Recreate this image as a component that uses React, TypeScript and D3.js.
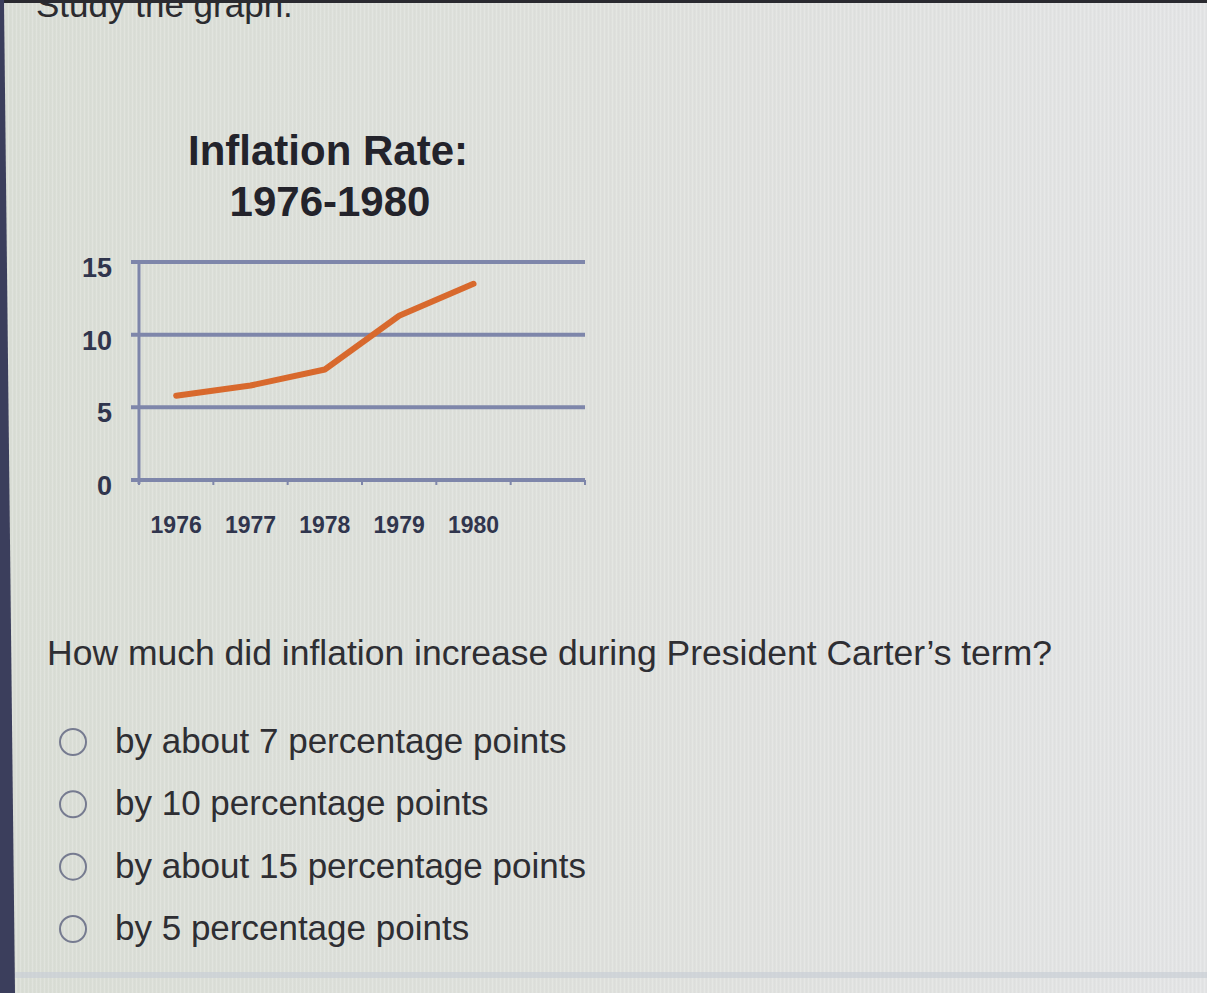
import React from "react";
import * as d3 from "d3";

const years = [1976, 1977, 1978, 1979, 1980];
const inflation = [5.8, 6.5, 7.6, 11.3, 13.5];
const yTicks = [0, 5, 10, 15];
const options = [
  "by about 7 percentage points",
  "by 10 percentage points",
  "by about 15 percentage points",
  "by 5 percentage points",
];

const W = 1207;
const H = 993;

export default function App() {
  const x = d3.scaleLinear().domain([1975.5, 1981.5]).range([139, 585]);
  const y = d3.scaleLinear().domain([0, 15]).range([480, 262]);
  const xBoundaries = d3.range(1975.5, 1982, 1);
  const line = d3
    .line<number>()
    .x((_, i) => x(years[i]))
    .y((d) => y(d));

  const font = "'Liberation Sans', Arial, sans-serif";
  const optionY = d3.scaleLinear().domain([0, 3]).range([753, 940]);

  return (
    <svg
      width={W}
      height={H}
      style={{ position: "fixed", left: 0, top: 0, display: "block" }}
      fontFamily={font}
    >
      <defs>
        <linearGradient id="bg" x1="0" y1="0" x2="1" y2="0">
          <stop offset="0" stopColor="#d9ddd5" />
          <stop offset="0.5" stopColor="#dee0dc" />
          <stop offset="1" stopColor="#e3e4e5" />
        </linearGradient>
        <pattern id="stripes" width="4" height="4" patternUnits="userSpaceOnUse">
          <rect x="0" y="0" width="1" height="4" fill="#ffffff" opacity="0.18" />
          <rect x="2" y="0" width="1" height="4" fill="#b9bdb8" opacity="0.08" />
        </pattern>
      </defs>
      <rect x={0} y={0} width={W} height={H} fill="url(#bg)" />
      <rect x={0} y={0} width={W} height={H} fill="url(#stripes)" />
      <rect x={0} y={0} width={W} height={3} fill="#2a2a30" />
      <polygon points={`0,0 4,0 15,${H} 0,${H}`} fill="#3b3e5c" />
      <rect x={15} y={972} width={W - 15} height={6} fill="#c9ced6" opacity={0.7} />

      <text x={36} y={17} fontSize={35} fill="#2b2b2f">
        Study the graph.
      </text>

      {/* Title */}
      <text x={328} y={165} fontSize={42} fontWeight="bold" textAnchor="middle" fill="#23232b">
        Inflation Rate:
      </text>
      <text x={330} y={216} fontSize={42} fontWeight="bold" textAnchor="middle" fill="#23232b">
        1976-1980
      </text>

      {/* gridlines */}
      {yTicks.map((t) => (
        <line
          key={t}
          x1={131}
          x2={585}
          y1={y(t)}
          y2={y(t)}
          stroke="#7e86aa"
          strokeWidth={4}
        />
      ))}
      <line x1={x(1975.5)} x2={x(1975.5)} y1={y(15)} y2={y(0) + 4} stroke="#7e86aa" strokeWidth={3} />
      {xBoundaries.map((b) => (
        <line key={b} x1={x(b)} x2={x(b)} y1={y(0)} y2={y(0) + 5} stroke="#7e86aa" strokeWidth={2} />
      ))}
      {yTicks.map((t) => (
        <text
          key={t}
          x={112}
          y={y(t) + 15}
          fontSize={27}
          fontWeight="bold"
          textAnchor="end"
          fill="#30354d"
        >
          {t}
        </text>
      ))}
      {years.map((yr) => (
        <text
          key={yr}
          x={x(yr)}
          y={533}
          fontSize={23}
          fontWeight="bold"
          textAnchor="middle"
          fill="#30354d"
        >
          {yr}
        </text>
      ))}
      <path
        d={line(inflation) || ""}
        fill="none"
        stroke="#d8692d"
        strokeWidth={6}
        strokeLinejoin="round"
        strokeLinecap="round"
      />

      <text x={47} y={665} fontSize={35.5} fill="#2e2e33">
        How much did inflation increase during President Carter’s term?
      </text>

      {options.map((o, i) => (
        <g key={o}>
          <circle cx={73} cy={optionY(i) - 11} r={13} fill="none" stroke="#767b90" strokeWidth={2} />
          <text x={115} y={optionY(i)} fontSize={35} fill="#2e2e33">
            {o}
          </text>
        </g>
      ))}
    </svg>
  );
}
